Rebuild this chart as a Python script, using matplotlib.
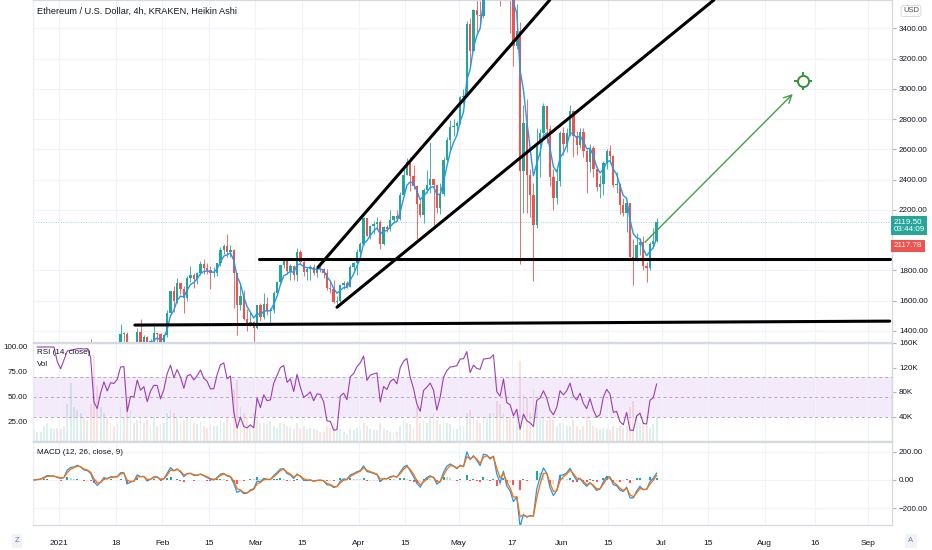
import numpy as np
import pandas as pd
import matplotlib
matplotlib.use('Agg')
import matplotlib.pyplot as plt
import matplotlib.transforms as mtransforms

plt.rcParams['font.family'] = ['Liberation Sans', 'DejaVu Sans']

# ---------------- data (daily) ----------------
start_date = '2020-12-24'
close_dec = [612, 626, 636, 683, 731, 731, 751, 737]
close_jan = [730, 775, 978, 1042, 1100, 1208, 1225, 1224, 1281, 1262,
             1090, 1044, 1130, 1218, 1171, 1233, 1230, 1257, 1377, 1382,
             1121, 1236, 1231, 1392, 1324, 1357, 1253, 1332, 1383, 1382, 1314]
close_feb = [1369, 1515, 1660, 1594, 1718, 1677, 1614, 1750, 1769, 1744,
             1783, 1843, 1814, 1804, 1780, 1781, 1848, 1937, 1960, 1919,
             1935, 1781, 1571, 1627, 1475, 1446, 1459, 1417]
close_mar = [1568, 1488, 1574, 1533, 1537, 1649, 1723, 1834, 1869, 1796,
             1826, 1769, 1924, 1855, 1791, 1806, 1823, 1782, 1812, 1810,
             1785, 1682, 1678, 1593, 1595, 1702, 1716, 1691, 1819, 1846, 1919]
close_apr = [1977, 2143, 2028, 2093, 2107, 2118, 1971, 2088, 2071, 2135,
             2157, 2139, 2299, 2432, 2514, 2422, 2355, 2237, 2166, 2330,
             2364, 2403, 2363, 2212, 2303, 2531, 2662, 2748, 2757, 2773]
close_may = [2945, 2952, 3431, 3253, 3522, 3490, 3484, 3903, 3929, 3953,
             4168, 3785, 3716, 4079, 3638, 3587, 3282, 3380, 2456, 2772,
             2431, 2301, 2100, 2643, 2706, 2888, 2736, 2419, 2279, 2390, 2707]
close_jun = [2634, 2708, 2855, 2688, 2630, 2715, 2590, 2518, 2611, 2472,
             2354, 2373, 2510, 2590, 2553, 2367, 2373, 2231, 2178, 2245,
             1889, 1875, 1970, 1990, 1830, 1817, 1973, 1993, 2119]

high_dec = [613, 632, 646, 717, 745, 737, 754, 755]
high_jan = [749, 787, 1010, 1157, 1132, 1212, 1278, 1268, 1300, 1348,
            1263, 1158, 1145, 1246, 1252, 1265, 1257, 1265, 1442, 1395,
            1392, 1254, 1290, 1420, 1477, 1370, 1363, 1345, 1433, 1385, 1385]
high_feb = [1380, 1540, 1661, 1694, 1746, 1717, 1695, 1764, 1828, 1784,
            1792, 1862, 1873, 1850, 1826, 1820, 1850, 1953, 1973, 2042,
            1965, 1938, 1780, 1715, 1672, 1545, 1525, 1468]
high_mar = [1571, 1582, 1650, 1625, 1553, 1663, 1732, 1838, 1880, 1870,
            1840, 1835, 1945, 1933, 1866, 1819, 1838, 1842, 1826, 1852,
            1813, 1810, 1723, 1738, 1628, 1707, 1730, 1730, 1833, 1856, 1940]
high_apr = [1985, 2150, 2145, 2100, 2128, 2150, 2133, 2095, 2100, 2200,
            2162, 2200, 2320, 2468, 2545, 2548, 2495, 2361, 2262, 2345,
            2465, 2645, 2395, 2360, 2380, 2548, 2680, 2795, 2800, 2790]
high_may = [2950, 3000, 3450, 3470, 3530, 3600, 3580, 3960, 3970, 4190,
            4200, 4380, 4150, 4150, 4120, 3850, 3550, 3560, 3440, 2890,
            2930, 2470, 2380, 2740, 2735, 2905, 2885, 2760, 2470, 2475, 2720]
high_jun = [2745, 2740, 2890, 2858, 2720, 2740, 2740, 2600, 2635, 2620,
            2490, 2430, 2520, 2600, 2630, 2560, 2450, 2375, 2280, 2260,
            2245, 2010, 2045, 2015, 2030, 1855, 1990, 2080, 2145]

low_dec = [569, 606, 619, 627, 683, 692, 718, 717]
low_jan = [714, 716, 771, 897, 986, 1065, 1170, 1132, 1205, 1170,
           910, 1008, 1030, 1126, 1095, 1160, 1168, 1205, 1245, 1285,
           1102, 1045, 1205, 1228, 1296, 1252, 1218, 1239, 1288, 1310, 1282]
low_feb = [1294, 1358, 1506, 1525, 1586, 1643, 1519, 1598, 1720, 1684,
           1710, 1771, 1778, 1778, 1678, 1753, 1765, 1831, 1906, 1890,
           1885, 1553, 1370, 1540, 1470, 1400, 1430, 1295]
low_mar = [1410, 1466, 1480, 1506, 1440, 1520, 1640, 1703, 1814, 1775,
           1736, 1739, 1730, 1840, 1762, 1735, 1735, 1770, 1757, 1790,
           1748, 1670, 1650, 1585, 1549, 1590, 1675, 1680, 1688, 1800, 1770]
low_apr = [1902, 1965, 2025, 2005, 2040, 2070, 1938, 1968, 2055, 2062,
           2113, 2130, 2132, 2296, 2428, 2323, 2336, 2010, 2153, 2110,
           2310, 2310, 2100, 2180, 2172, 2290, 2522, 2588, 2690, 2715]
low_may = [2767, 2900, 2950, 3150, 3250, 3375, 3420, 3470, 3700, 3800,
           3900, 3780, 3550, 3710, 3630, 3370, 3150, 3260, 1840, 2180,
           2180, 2150, 1730, 2080, 2420, 2700, 2640, 2360, 2200, 2240, 2360]
low_jun = [2560, 2580, 2690, 2550, 2560, 2610, 2550, 2310, 2450, 2420,
           2325, 2280, 2300, 2470, 2510, 2350, 2310, 2170, 2160, 2050,
           1880, 1705, 1860, 1900, 1805, 1720, 1800, 1950, 1990]

vol_dec = [18, 15, 14, 25, 30, 22, 20, 22]
vol_jan = [20, 25, 60, 95, 55, 50, 45, 40, 35, 60, 140, 90, 55, 45, 40, 30,
           25, 28, 55, 40, 70, 50, 30, 35, 40, 30, 35, 25, 40, 25, 28]
vol_feb = [30, 45, 50, 45, 40, 30, 35, 40, 38, 30, 28, 32, 25, 22, 28, 25,
           25, 35, 30, 40, 30, 85, 100, 55, 45, 40, 25, 45]
vol_mar = [35, 30, 30, 28, 32, 25, 22, 30, 28, 25, 22, 20, 30, 22, 25, 20,
           22, 20, 18, 15, 15, 25, 22, 30, 25, 20, 15, 12, 20, 18, 22]
vol_apr = [20, 30, 25, 20, 18, 18, 30, 20, 18, 15, 12, 15, 25, 35, 30, 28,
           22, 55, 30, 35, 30, 40, 45, 35, 28, 32, 30, 28, 22, 20]
vol_may = [25, 25, 45, 50, 40, 35, 30, 40, 40, 45, 45, 65, 60, 45, 40, 40,
           50, 45, 130, 75, 70, 45, 85, 60, 40, 40, 35, 40, 35, 25, 30]
vol_jun = [30, 25, 25, 35, 25, 18, 25, 40, 35, 25, 22, 20, 22, 22, 18, 25,
           22, 25, 22, 25, 55, 65, 40, 30, 35, 25, 22, 28, 40]

# drawings (anchor points: day offset from 2021-01-01, price)
up_line = ([77.8, 147.4], [1820, 3587])
low_line = ([83.5, 196.7], [1556, 3587])
hline1 = ([60.0, 249.5], [1873, 1873])
hline2 = ([22.8, 249.5], [1438, 1464])
arrow_from = (176.0, 1985)
arrow_to = (220.4, 2966)
icon_pos = (223.4, 3052)
last_price = 2119.50
last_price2 = 2117.78

tick_days = [0, 17, 31, 45, 59, 73, 90, 104, 120, 136, 151, 165, 181, 195, 212, 227, 243]
tick_labels = ['2021', '18', 'Feb', '15', 'Mar', '15', 'Apr', '15', 'May', '17',
               'Jun', '15', 'Jul', '15', 'Aug', '16', 'Sep']
price_ticks = [1400, 1600, 1800, 2200, 2400, 2600, 2800, 3000, 3200, 3400]

# ---------------- derived series ----------------
close = np.array(close_dec + close_jan + close_feb + close_mar + close_apr + close_may + close_jun, float)
high = np.array(high_dec + high_jan + high_feb + high_mar + high_apr + high_may + high_jun, float)
low = np.array(low_dec + low_jan + low_feb + low_mar + low_apr + low_may + low_jun, float)
vol = np.array(vol_dec + vol_jan + vol_feb + vol_mar + vol_apr + vol_may + vol_jun, float)
n = len(close)
dates = pd.date_range(start_date, periods=n, freq='D')
day = (dates - pd.Timestamp('2021-01-01')).days.values + 0.5
openp = np.r_[close[0], close[:-1]]
high = np.maximum(high, np.maximum(openp, close))
low = np.minimum(low, np.minimum(openp, close))
up = close >= openp

s = pd.Series(close)
ma = s.ewm(span=4.5, adjust=False).mean()
d = s.diff()
gain = d.clip(lower=0).ewm(alpha=0.2, adjust=False).mean()
loss = (-d).clip(lower=0).ewm(alpha=0.2, adjust=False).mean()
rsi = 100 - 100 / (1 + gain / loss)
macd = s.ewm(span=2.4, adjust=False).mean() - s.ewm(span=5.2, adjust=False).mean()
signal = macd.ewm(span=2.0, adjust=False).mean()
hist = (macd - signal).values

GREEN = '#26a69a'
RED = '#ef5350'
GRID = '#f0f3fa'
SEP = '#d6d9e0'
TXT = '#131722'

W_PX, H_PX = 932, 550
fig = plt.figure(figsize=(W_PX / 100, H_PX / 100), dpi=100)
fig.patch.set_facecolor('white')
L = 33 / W_PX
WID = (892 - 33) / W_PX


def box(top, bottom):
    return [L, 1 - bottom / H_PX, WID, (bottom - top) / H_PX]


ax = fig.add_axes(box(0, 342))
ax_rsi = fig.add_axes(box(343, 441))
ax_vol = ax_rsi.twinx()
ax_macd = fig.add_axes(box(442, 525))

XL = (-7.8, 250.2)
for a in (ax, ax_rsi, ax_vol, ax_macd):
    a.set_xlim(*XL)
    for sp in a.spines.values():
        sp.set_color(SEP)
        sp.set_linewidth(0.9)
    a.spines['left'].set_color('#eceef2')

for a in (ax, ax_rsi, ax_macd):
    a.set_xticks(tick_days)
    a.grid(axis='x', color=GRID, lw=0.8, zorder=0)
    a.tick_params(axis='x', length=0, labelbottom=False)

# ---------------- main pane ----------------
ax.set_ylim(1326, 3587)
ax.set_yticks(price_ticks)
ax.set_yticklabels(['%.2f' % p for p in price_ticks])
ax.yaxis.tick_right()
ax.tick_params(axis='y', length=3, color='#b2b5be', labelsize=5.8, labelcolor=TXT, pad=2)
ax.grid(axis='y', color=GRID, lw=0.8, zorder=0)
cols = np.where(up, GREEN, RED)
ax.vlines(day, low, high, colors=cols, lw=0.6, zorder=2)
body_lo = np.minimum(openp, close)
body_h = np.maximum(np.abs(close - openp), 6)
ax.bar(day, body_h, bottom=body_lo, width=0.7, color=cols, lw=0, zorder=3)
ax.plot(day, ma, color='#2196f3', lw=1.0, zorder=4)
ax.axhline(last_price, color='#80cbc4', lw=0.6, ls=(0, (1, 2)), zorder=1)
for xs, ys in (up_line, low_line, hline1, hline2):
    ax.plot(xs, ys, color='black', lw=2.2, solid_capstyle='round', zorder=6)
ax.annotate('', xy=arrow_to, xytext=arrow_from,
            arrowprops=dict(arrowstyle='->', color='#43a047', lw=1.0, mutation_scale=14,
                            shrinkA=0, shrinkB=0), zorder=7)
ax.plot(*icon_pos, marker='+', ms=13, mew=1.4, color='#388e3c', zorder=7)
ax.plot(*icon_pos, marker='o', ms=8, mfc='white', mec='white', zorder=8)
ax.plot(*icon_pos, marker='o', ms=8, mfc='none', mec='#388e3c', mew=1.4, zorder=9)

fig.text(37 / W_PX, 1 - 11 / H_PX, 'Ethereum / U.S. Dollar, 4h, KRAKEN, Heikin Ashi',
         fontsize=6.6, color=TXT, va='center', ha='left')
fig.text(911 / W_PX, 1 - 11 / H_PX, 'USD', fontsize=5.5, color='#4a4e59', va='center', ha='center',
         bbox=dict(boxstyle='round,pad=0.25', fc='white', ec='#d1d4dc', lw=0.6))

trans = mtransforms.blended_transform_factory(ax.transAxes, ax.transData)
ax.text(1.002, last_price - 25, '2119.50\n03:44:09', transform=trans, fontsize=5.8, color='white',
        va='center', ha='left', linespacing=1.05, clip_on=False, zorder=10,
        bbox=dict(boxstyle='square,pad=0.3', fc=GREEN, ec='none'))
ax.annotate('2117.78', xy=(1.002, last_price), xycoords=trans, xytext=(0, -24),
            textcoords='offset pixels', fontsize=5.8, color='white', va='center', ha='left',
            annotation_clip=False, zorder=10,
            bbox=dict(boxstyle='square,pad=0.3', fc=RED, ec='none'))

# ---------------- RSI + volume ----------------
ax_vol.set_zorder(ax_rsi.get_zorder() - 1)
ax_rsi.patch.set_visible(False)
ax_vol.patch.set_facecolor('white')
ax_vol.set_ylim(0, 160)
vcols = np.where(up, GREEN, RED)
ax_vol.bar(day, vol, width=0.55, color=vcols, alpha=0.16, lw=0)
ax_vol.set_yticks([40, 80, 120, 160])
ax_vol.set_yticklabels(['40K', '80K', '120K', '160K'])
ax_vol.tick_params(axis='y', length=3, color='#b2b5be', labelsize=5.8, labelcolor=TXT, pad=2)
ax_vol.tick_params(axis='x', length=0, labelbottom=False)

ax_rsi.set_ylim(6, 104)
ax_rsi.axhspan(30, 70, color='#a155d6', alpha=0.12, lw=0, zorder=1)
for lvl in (70, 50, 30):
    ax_rsi.axhline(lvl, color='#b7a3c9', lw=0.7, ls=(0, (3, 3)), zorder=2)
ax_rsi.plot(day, rsi, color='#9c3db5', lw=0.8, zorder=3)
ax_rsi.set_yticks([25, 50, 75, 100])
ax_rsi.set_yticklabels(['25.00', '50.00', '75.00', '100.00'])
ax_rsi.tick_params(axis='y', length=0, labelsize=5.8, labelcolor=TXT, pad=4)
fig.text(37 / W_PX, 1 - 353 / H_PX, 'RSI (14, close)', fontsize=5.8, color=TXT, va='center')
fig.text(37 / W_PX, 1 - 364 / H_PX, 'Vol', fontsize=5.8, color=TXT, va='center')

# ---------------- MACD ----------------
ax_macd.set_ylim(-321, 271)
hcols = []
for i, h in enumerate(hist):
    prev = hist[i - 1] if i > 0 else 0
    if h >= 0:
        hcols.append('#26a69a' if h >= prev else '#b2dfdb')
    else:
        hcols.append('#ffcdd2' if h >= prev else '#ff5252')
ax_macd.bar(day, hist, width=0.6, color=hcols, lw=0, zorder=2)
ax_macd.plot(day, macd, color='#2196f3', lw=0.9, zorder=3)
ax_macd.plot(day, signal, color='#ff6d00', lw=0.9, zorder=4)
ax_macd.yaxis.tick_right()
ax_macd.set_yticks([-200, 0, 200])
ax_macd.set_yticklabels(['\u2212200.00', '0.00', '200.00'])
ax_macd.tick_params(axis='y', length=3, color='#b2b5be', labelsize=5.8, labelcolor=TXT, pad=2)
ax_macd.grid(axis='y', color=GRID, lw=0.8, zorder=0)
ax_macd.set_xticklabels(tick_labels)
ax_macd.tick_params(axis='x', labelbottom=True, labelsize=6, labelcolor=TXT, pad=11)
fig.text(37 / W_PX, 1 - 453 / H_PX, 'MACD (12, 26, close, 9)', fontsize=5.8, color=TXT, va='center')

fig.text(17 / W_PX, 1 - 541 / H_PX, 'Z', fontsize=5.5, color='#787b86', ha='center', va='center',
         bbox=dict(boxstyle='square,pad=0.4', fc='#f0f3fa', ec='none'))
fig.text(911 / W_PX, 1 - 541 / H_PX, 'A', fontsize=5.5, color='#787b86', ha='center', va='center',
         bbox=dict(boxstyle='square,pad=0.4', fc='#f0f3fa', ec='none'))

fig.savefig('out.png', dpi=100, facecolor='white')
